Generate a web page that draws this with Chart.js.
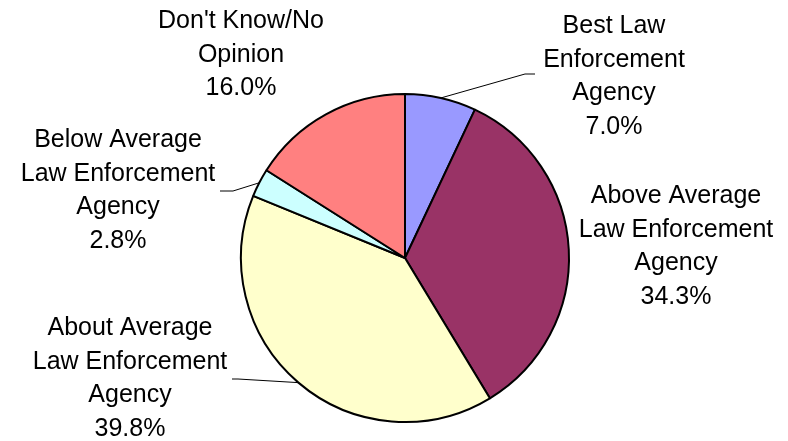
<!DOCTYPE html>
<html>
<head>
<meta charset="utf-8">
<script src="https://cdn.jsdelivr.net/npm/chart.js@4/dist/chart.umd.min.js"></script>
<style>
  body { margin: 0; background: #fff; }
  #wrap { width: 788px; height: 441px; }
</style>
</head>
<body>
<div id="wrap"><canvas id="myChart" width="788" height="441"></canvas></div>
<script>
// rating of the agency (share of respondents)
const categories = [
  ['Best Law', 'Enforcement', 'Agency'],
  ['Above Average', 'Law Enforcement', 'Agency'],
  ['About Average', 'Law Enforcement', 'Agency'],
  ['Below Average', 'Law Enforcement', 'Agency'],
  ["Don't Know/No", 'Opinion']
];
const shares = [7.0, 34.3, 39.8, 2.8, 16.0];
const sliceColors = ['#9999FF', '#993366', '#FFFFCC', '#CCFFFF', '#FF8080'];

// where each label block goes: centre x, first baseline, optional leader elbow/end
const labelLayout = [
  { x: 614, y: 33, leader: [[525, 74], [535, 74]] },
  { x: 676, y: 203 },
  { x: 130, y: 335, leader: [[238, 379], [232, 379]] },
  { x: 118, y: 147, leader: [[233, 191], [220, 191]] },
  { x: 241, y: 28 }
];
const lineGap = 33.5;

const pieLabels = {
  id: 'pieLabels',
  afterDatasetsDraw(chart) {
    const ctx = chart.ctx;
    const arcs = chart.getDatasetMeta(0).data;
    ctx.save();
    arcs.forEach((arc, i) => {
      const pos = labelLayout[i];
      if (pos.leader) {
        const mid = (arc.startAngle + arc.endAngle) / 2;
        const r = arc.outerRadius;
        ctx.beginPath();
        ctx.moveTo(arc.x + Math.cos(mid) * r, arc.y + Math.sin(mid) * r);
        pos.leader.forEach(p => ctx.lineTo(p[0], p[1]));
        ctx.strokeStyle = '#000';
        ctx.lineWidth = 1;
        ctx.stroke();
      }
      const lines = categories[i].concat([shares[i].toFixed(1) + '%']);
      ctx.fillStyle = '#000';
      ctx.font = '25px "Liberation Sans", Arial, sans-serif';
      ctx.textAlign = 'center';
      ctx.textBaseline = 'alphabetic';
      lines.forEach((t, k) => ctx.fillText(t, pos.x, pos.y + k * lineGap));
    });
    ctx.restore();
  }
};

const ctx = document.getElementById('myChart').getContext('2d');
const myChart = new Chart(ctx, {
  type: 'pie',
  data: {
    labels: categories.map(c => c.join(' ')),
    datasets: [{
      data: shares,
      backgroundColor: sliceColors,
      borderColor: '#000',
      borderWidth: 2
    }]
  },
  options: {
    responsive: false,
    animation: false,
    radius: 164,
    layout: { padding: { left: 22, right: 0, top: 75, bottom: 0 } },
    plugins: {
      legend: { display: false },
      tooltip: { enabled: false }
    }
  },
  plugins: [pieLabels]
});
</script>
</body>
</html>
